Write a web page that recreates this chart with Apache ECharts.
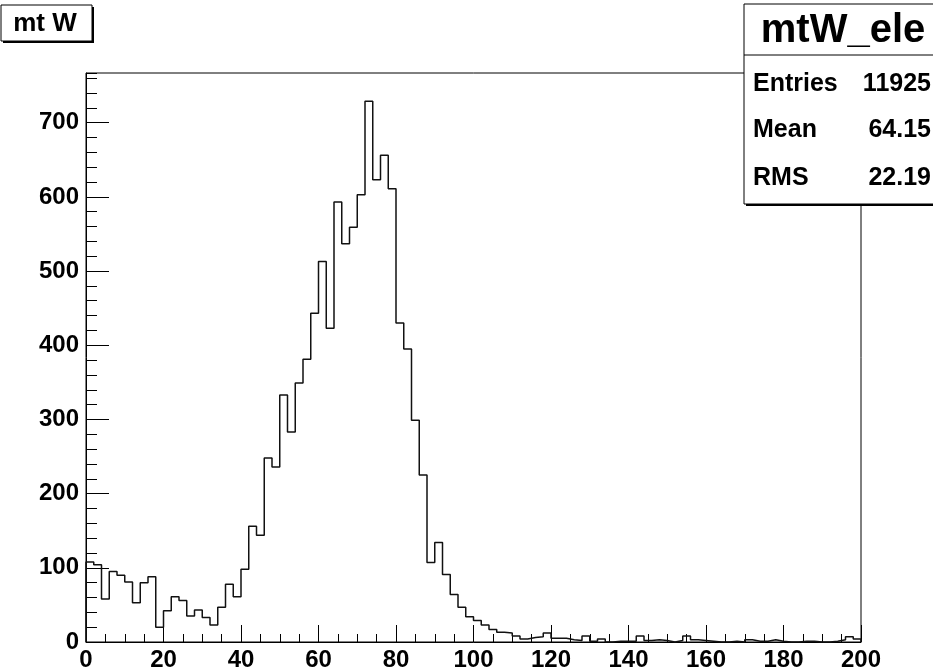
<!DOCTYPE html>
<html>
<head>
<meta charset="utf-8">
<title>mtW_ele</title>
<script src="https://cdn.jsdelivr.net/npm/echarts@6/dist/echarts.min.js"></script>
<style>
  html, body { margin: 0; padding: 0; background: #fff; }
  #chart { width: 933px; height: 672px; }
</style>
</head>
<body>
<div id="chart"></div>
<script>
// histogram: 100 bins of width 2 from 0 to 200
const binLow = 0
const binWidth = 2
const counts = [
  108, 104, 58, 95, 90, 81, 53, 80, 88, 20,
  42, 61, 56, 35, 43, 33, 23, 47, 78, 61,
  98, 156, 144, 248, 236, 333, 283, 349, 381, 443,
  513, 423, 593, 537, 559, 603, 729, 623, 656, 611,
  430, 395, 299, 225, 107, 134, 91, 64, 47, 34,
  29, 23, 17, 13, 12, 8, 4, 6, 7, 12,
  5, 5, 3, 2, 8, 1, 4, 0, 1, 1,
  1, 8, 2, 3, 2, 0, 2, 8, 3, 2,
  1, 0, 0, 1, 0, 3, 1, 1, 3, 1,
  0, 0, 1, 1, 0, 0, 1, 3, 7, 4
]
const statLabels = ['Entries', 'Mean', 'RMS']
const statValues = ['11925', '64.15', '22.19']
const histTitle = 'mtW_ele'
const padTitle = 'mt W'

const font = 'Liberation Sans, Arial, sans-serif'

// step outline points at bin edges
const outline = [[binLow, 0]]
counts.forEach((c, i) => outline.push([binLow + i * binWidth, c]))
outline.push([binLow + counts.length * binWidth, counts[counts.length - 1]])
outline.push([binLow + counts.length * binWidth, 0])

const chart = echarts.init(document.getElementById('chart'))

const graphic = [
  // pad title box with shadow
  { type: 'rect', shape: { x: 3, y: 7, width: 91, height: 36 }, style: { fill: '#000' } },
  { type: 'rect', shape: { x: 1, y: 5, width: 91, height: 36 }, style: { fill: '#fff', stroke: '#000', lineWidth: 1 } },
  { type: 'text', x: 45, y: 24, style: { text: padTitle, font: 'bold 26px ' + font, fill: '#000', align: 'center', verticalAlign: 'middle' } },
  // stats box
  { type: 'rect', shape: { x: 746, y: 6, width: 200, height: 200 }, style: { fill: '#000' } },
  { type: 'rect', shape: { x: 744, y: 4, width: 200, height: 200 }, style: { fill: '#fff', stroke: '#000', lineWidth: 1 } },
  { type: 'line', shape: { x1: 744, y1: 55, x2: 933, y2: 55 }, style: { stroke: '#000', lineWidth: 1 } },
  { type: 'text', x: 843, y: 31, style: { text: histTitle, font: 'bold 40px ' + font, fill: '#000', align: 'center', verticalAlign: 'middle' } }
]
const rowY = [84, 130, 178]
statLabels.forEach((lab, i) => {
  graphic.push({ type: 'text', x: 753, y: rowY[i], style: { text: lab, font: 'bold 25px ' + font, fill: '#000', align: 'left', verticalAlign: 'middle' } })
  graphic.push({ type: 'text', x: 931, y: rowY[i], style: { text: statValues[i], font: 'bold 25px ' + font, fill: '#000', align: 'right', verticalAlign: 'middle' } })
})

chart.setOption({
  animation: false,
  grid: {
    left: 86, right: 72, top: 73, bottom: 30,
    show: true, borderColor: '#000', borderWidth: 1, backgroundColor: 'transparent'
  },
  xAxis: {
    type: 'value', min: 0, max: 200, interval: 20,
    axisLine: { show: true, lineStyle: { color: '#000', width: 1 } },
    axisTick: { show: true, inside: true, length: 17, lineStyle: { color: '#000' } },
    minorTick: { show: true, splitNumber: 4, length: 8, lineStyle: { color: '#000' } },
    splitLine: { show: false },
    axisLabel: { color: '#000', fontFamily: font, fontWeight: 'bold', fontSize: 24, margin: 6 }
  },
  yAxis: [
    {
      type: 'value', min: 0, max: 767, interval: 100,
      axisLine: { show: true, lineStyle: { color: '#000', width: 1 } },
      axisTick: { show: true, inside: true, length: 23, lineStyle: { color: '#000' } },
      splitLine: { show: false },
      axisLabel: { color: '#000', fontFamily: font, fontWeight: 'bold', fontSize: 24, margin: 7, showMaxLabel: false }
    },
    {
      // minor ticks every 20
      type: 'value', min: 0, max: 767, interval: 20, position: 'left',
      axisLine: { show: false },
      axisTick: { show: true, inside: true, length: 11, lineStyle: { color: '#000' } },
      splitLine: { show: false },
      axisLabel: { show: false }
    }
  ],
  series: [{
    type: 'line',
    step: 'end',
    data: outline,
    symbol: 'none',
    lineStyle: { color: '#111', width: 1.5 },
    clip: false
  }],
  graphic: graphic
})
</script>
</body>
</html>
